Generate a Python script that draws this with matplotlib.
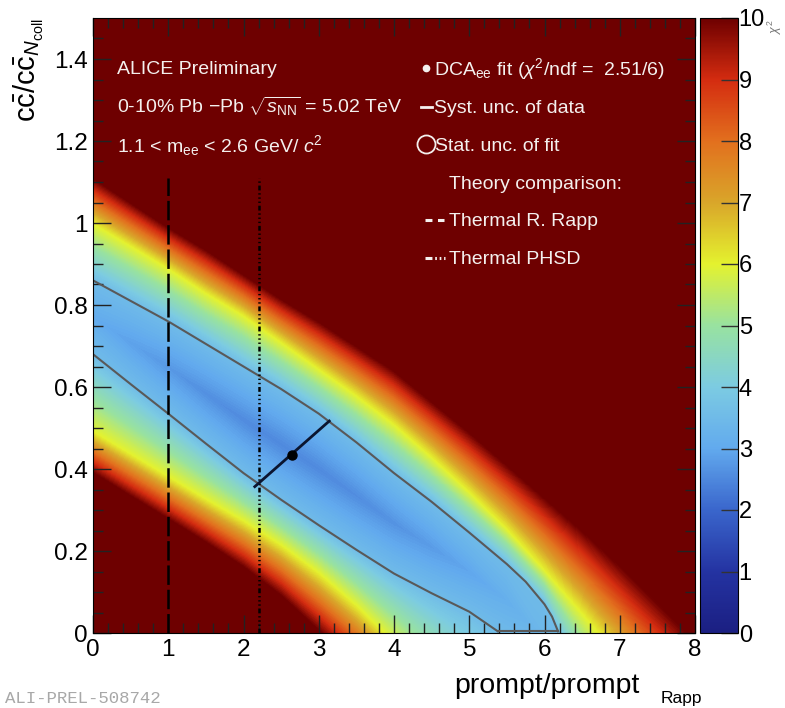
import numpy as np
import matplotlib
matplotlib.use("Agg")
import matplotlib.pyplot as plt
import matplotlib.transforms as mtransforms
from matplotlib.colors import LinearSegmentedColormap, Normalize

plt.rcParams['font.family'] = ['Liberation Sans', 'DejaVu Sans']
plt.rcParams['mathtext.fontset'] = 'custom'
plt.rcParams['mathtext.rm'] = 'Liberation Sans'
plt.rcParams['mathtext.it'] = 'Liberation Sans:italic'
plt.rcParams['mathtext.bf'] = 'Liberation Sans:bold'
plt.rcParams['lines.scale_dashes'] = False

x_grid = [0, 0.5, 1, 1.5, 2, 2.5, 3, 3.5, 4, 4.5, 5, 5.5, 6, 6.5, 7, 7.5, 8]
lower_10 = [0.39, 0.333, 0.277, 0.22, 0.16, 0.09, 0.005, -0.08, -0.17, -0.28, -0.4, -0.52, -0.65, -0.75, -0.9, -1.05, -1.2]
lower_6 = [0.49, 0.435, 0.38, 0.325, 0.272, 0.213, 0.145, 0.065, -0.025, -0.13, -0.25, -0.37, -0.5, -0.6, -0.75, -0.9, -1.05]
lower_35 = [0.68, 0.607, 0.535, 0.462, 0.39, 0.325, 0.263, 0.203, 0.145, 0.097, 0.052, -0.01, -0.1, -0.2, -0.45, -0.6, -0.8]
valley_y = [0.77, 0.708, 0.648, 0.584, 0.52, 0.46, 0.40, 0.335, 0.268, 0.21, 0.15, 0.08, -0.015, -0.16, -0.4, -0.55, -0.7]
valley_chi2 = [3.05, 2.87, 2.72, 2.61, 2.54, 2.51, 2.52, 2.57, 2.65, 2.77, 2.94, 3.14, 3.38, 3.65, 3.97, 4.3, 4.7]
upper_35 = [0.86, 0.81, 0.76, 0.705, 0.65, 0.595, 0.535, 0.465, 0.39, 0.32, 0.245, 0.168, 0.07, -0.12, -0.35, -0.5, -0.6]
upper_6 = [1.00, 0.945, 0.89, 0.83, 0.775, 0.71, 0.645, 0.58, 0.51, 0.43, 0.345, 0.255, 0.155, 0.05, -0.06, -0.18, -0.3]
upper_10 = [1.11, 1.05, 0.99, 0.935, 0.875, 0.815, 0.76, 0.70, 0.64, 0.565, 0.49, 0.41, 0.33, 0.25, 0.165, 0.075, -0.02]
contour_level = 3.51

# the drawn 1 sigma contour, read with finer steps near its end
contour_up_x = [0, 0.5, 1, 1.5, 2, 2.5, 3, 3.5, 4, 4.5, 5, 5.5, 5.75, 6, 6.1, 6.18]
contour_up_y = [0.86, 0.81, 0.76, 0.705, 0.65, 0.595, 0.535, 0.465, 0.39, 0.32, 0.245, 0.168, 0.125, 0.07, 0.04, 0.004]
contour_low_x = [0, 0.5, 1, 1.5, 2, 2.5, 3, 3.5, 4, 4.5, 5, 5.38]
contour_low_y = [0.68, 0.607, 0.535, 0.462, 0.39, 0.325, 0.263, 0.203, 0.145, 0.097, 0.052, 0.004]

best_fit = (2.65, 0.435)
syst_x = [2.15, 3.14]
syst_y = [0.357, 0.517]
rapp_x = 1.0
phsd_x = 2.2
theory_top = 1.11

# ROOT-like palette of the colour bar
palette = ['#1b1f82', '#2433a2', '#3a66cc', '#62aaee', '#7ccbe2', '#98e2a0',
           '#e4f22e', '#d9a62a', '#e2701e', '#d42c10', '#6e0000']
cmap = LinearSegmentedColormap.from_list('chi2', palette, N=512)
cmap.set_over('#6e0000')

fig = plt.figure(figsize=(7.85, 7.08), dpi=100)
px = mtransforms.Affine2D().scale(1, -1).translate(0, 708)
ax = fig.add_axes([93 / 785, (708 - 633) / 708, (695 - 93) / 785, (633 - 18) / 708])
cax = fig.add_axes([700 / 785, (708 - 633) / 708, 38 / 785, (633 - 18) / 708])

n = len(x_grid)
rows_y = [np.full(n, -1.6), lower_10, lower_6, lower_35, valley_y, upper_35, upper_6, upper_10, np.full(n, 1.6)]
rows_z = [np.full(n, 14.0), np.full(n, 10.0), np.full(n, 6.0), np.full(n, contour_level), valley_chi2,
          np.full(n, contour_level), np.full(n, 6.0), np.full(n, 10.0), np.full(n, 14.0)]
X = np.tile(np.array(x_grid, float), (len(rows_y), 1))
Y = np.array(rows_y, float)
Z = np.array(rows_z, float)
ax.contourf(X, Y, Z, levels=np.linspace(0, 10, 201), cmap=cmap, extend='max')

# 1 sigma contour of the fit, closed along the x axis
gray = '#595959'
ax.plot(contour_up_x, contour_up_y, color=gray, lw=1.5)
ax.plot(contour_low_x, contour_low_y, color=gray, lw=1.5)
ax.plot([contour_low_x[-1], contour_up_x[-1]], [0.004, 0.004], color=gray, lw=1.5)

# theory lines
ax.plot([rapp_x, rapp_x], [0, theory_top], color='black', lw=1.8, ls=(0, (14, 3.5)))
ax.plot([phsd_x, phsd_x], [0, theory_top], color='black', lw=1.8, ls=(0, (3.5, 2, 1, 2, 1, 2, 1, 2)))

# fit result with syst. uncertainty
ax.plot(syst_x, syst_y, color='#0b1530', lw=2.0)
ax.plot(*best_fit, 'o', color='black', ms=6.5)

ax.set_xlim(0, 8)
ax.set_ylim(0, 1.5)
ax.set_xticks(range(0, 9))
ax.set_xticks(np.arange(0, 8.01, 0.2), minor=True)
ax.set_yticks(np.arange(0, 1.41, 0.2))
ax.set_yticklabels(['0', '0.2', '0.4', '0.6', '0.8', '1', '1.2', '1.4'])
ax.set_yticks(np.arange(0, 1.5, 0.05), minor=True)
ax.tick_params(which='both', direction='in', top=True, right=True, labelsize=17.5, color='#222222')
ax.tick_params(which='major', length=13, width=1)
ax.tick_params(which='minor', length=7, width=1)
ax.tick_params(axis='x', pad=4)
ax.tick_params(axis='y', pad=4)

# axis titles, ROOT style: x title right aligned, y title at the top
fig.text(640, 693, 'prompt/prompt', transform=px, fontsize=20.5, ha='right')
fig.text(661, 703, 'Rapp', transform=px, fontsize=12.5)
fig.text(12, 18, r'c$\bar{\rm c}$/c$\bar{\rm c}_{N_{\rm coll}}$', transform=px, fontsize=21,
         rotation=90, ha='left', va='top')

cb = fig.colorbar(plt.cm.ScalarMappable(norm=Normalize(0, 10), cmap=cmap), cax=cax, ticks=range(11))
cb.outline.set_linewidth(0.8)
cax.tick_params(direction='in', length=12, width=1, color='#333333', labelsize=17, pad=0.5)
fig.text(775, 19, r'$\chi^2$', transform=px, fontsize=9, rotation=90, color='#777777', ha='center', va='top')

# text block, left
w = '#f4f0ee'
fig.text(117, 74, 'ALICE Preliminary', transform=px, color=w, fontsize=14)
fig.text(117, 113, r'0-10% Pb $-$Pb $\sqrt{s_{\rm NN}}$ = 5.02 TeV', transform=px, color=w, fontsize=14)
fig.text(117, 152, r'1.1 < m$_{\rm ee}$ < 2.6 GeV/ $c^2$', transform=px, color=w, fontsize=14)

# legend, right
fig.text(434, 75, r'DCA$_{\rm ee}$ fit ($\chi^2$/ndf =  2.51/6)', transform=px, color=w, fontsize=14)
fig.text(434, 113, 'Syst. unc. of data', transform=px, color=w, fontsize=14)
fig.text(435, 151, 'Stat. unc. of fit', transform=px, color=w, fontsize=14)
fig.text(449, 189, 'Theory comparison:', transform=px, color=w, fontsize=14)
fig.text(449, 226, 'Thermal R. Rapp', transform=px, color=w, fontsize=14)
fig.text(449, 264, 'Thermal PHSD', transform=px, color=w, fontsize=14)
fig.lines.append(plt.Line2D([426], [68], transform=px, marker='o', ms=4.5, color=w, ls='none'))
fig.lines.append(plt.Line2D([421, 432], [107, 107], transform=px, color=w, lw=2))
fig.lines.append(plt.Line2D([426], [144], transform=px, marker='o', ms=13, mfc='none', mec=w, mew=1.3, ls='none'))
fig.lines.append(plt.Line2D([425, 444], [220, 220], transform=px, color=w, lw=2.2, ls=(0, (5, 4))))
fig.lines.append(plt.Line2D([425, 445], [258, 258], transform=px, color=w, lw=2.2, ls=(0, (5, 2, 1.2, 2, 1.2, 2, 1.2, 2))))

fig.text(5, 703, 'ALI-PREL-508742', transform=px, color='#a8a8a8', fontsize=12.5, family='Liberation Mono')

fig.savefig('out.png', dpi=100)
